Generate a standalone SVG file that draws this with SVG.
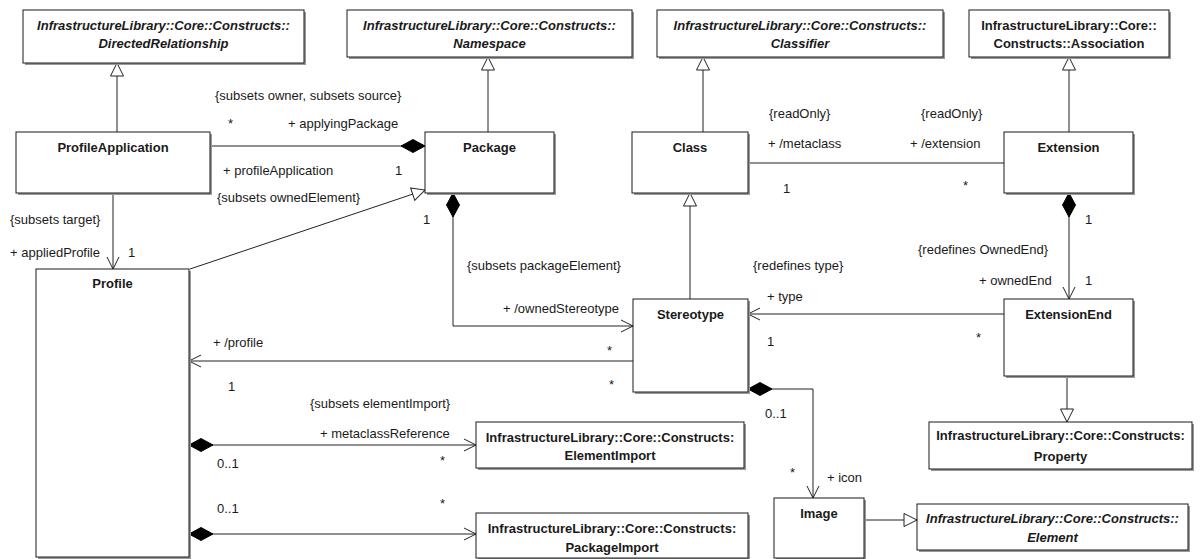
<svg xmlns="http://www.w3.org/2000/svg" width="1202" height="559" viewBox="0 0 1202 559">
<style>
text{font-family:"Liberation Sans",Arial,sans-serif;fill:#1a1a1a}
.lbl{font-size:13px}
.t{font-size:13px;font-weight:bold;text-anchor:middle}
.q{font-size:13px;font-weight:bold;text-anchor:middle}
.qi{font-size:13px;font-weight:bold;font-style:italic;text-anchor:middle}
.box{fill:#fff;stroke:#1a1a1a;stroke-width:1}
.sh{fill:#999}
.c{fill:none;stroke:#222;stroke-width:1}
.gen{marker-end:url(#tri)}
.nav{marker-end:url(#arr)}
.comp{marker-start:url(#dia)}
</style>
<defs>
<marker id="tri" markerUnits="userSpaceOnUse" markerWidth="14" markerHeight="14" refX="13" refY="6.5" orient="auto" overflow="visible">
<path d="M0,0 L13,6.5 L0,13 Z" fill="#fff" stroke="#222" stroke-width="1"/>
</marker>
<marker id="arr" markerUnits="userSpaceOnUse" markerWidth="13" markerHeight="13" refX="12" refY="6" orient="auto" overflow="visible">
<path d="M0,0 L12,6 L0,12" fill="none" stroke="#222" stroke-width="1"/>
</marker>
<marker id="dia" markerUnits="userSpaceOnUse" markerWidth="26" markerHeight="14" refX="0" refY="0" orient="auto" overflow="visible">
<path d="M0,0 L12,-6.5 L24,0 L12,6.5 Z" fill="#000" stroke="#000" stroke-width="1"/>
</marker>
</defs>

<g id="connectors">
<path class="c gen" d="M117,132 V63"/>
<path class="c gen" d="M488,132 V57"/>
<path class="c gen" d="M703,132 V57"/>
<path class="c gen" d="M1069,132 V57"/>
<path class="c comp" d="M425,146 H210"/>
<path class="c nav" d="M113,193 V269"/>
<path class="c gen" d="M190,269 L425,190"/>
<path class="c comp nav" d="M453,193 V326 H633"/>
<path class="c gen" d="M690,299 V193"/>
<path class="c" d="M748,163 H1004"/>
<path class="c comp nav" d="M1069,193 V299"/>
<path class="c nav" d="M1004,314 H748"/>
<path class="c nav" d="M633,361 H189"/>
<path class="c gen" d="M1067,376 V422"/>
<path class="c comp nav" d="M189,445 H476"/>
<path class="c comp nav" d="M189,534 H476"/>
<path class="c comp nav" d="M748,389 H813 V498"/>
<path class="c gen" d="M864,520 H917"/>

<text class="lbl" x="215" y="99.5">{subsets owner, subsets source}</text>
<text class="lbl" x="228" y="128">*</text>
<text class="lbl" x="288" y="127.5">+ applyingPackage</text>
<text class="lbl" x="223" y="174.5">+ profileApplication</text>
<text class="lbl" x="395" y="174.5">1</text>
<text class="lbl" x="128" y="172">*</text>
<text class="lbl" x="217" y="201.5">{subsets ownedElement}</text>
<text class="lbl" x="10" y="223.5">{subsets target}</text>
<text class="lbl" x="10" y="256.5">+ appliedProfile</text>
<text class="lbl" x="128" y="256.5">1</text>
<text class="lbl" x="423" y="223.5">1</text>
<text class="lbl" x="467" y="269.5">{subsets packageElement}</text>
<text class="lbl" x="503" y="312.5">+ /ownedStereotype</text>
<text class="lbl" x="213" y="346.5">+ /profile</text>
<text class="lbl" x="607" y="355">*</text>
<text class="lbl" x="609" y="389">*</text>
<text class="lbl" x="228" y="390.5">1</text>
<text class="lbl" x="310" y="407.5">{subsets elementImport}</text>
<text class="lbl" x="320" y="437.5">+ metaclassReference</text>
<text class="lbl" x="217" y="467.5">0..1</text>
<text class="lbl" x="440" y="465">*</text>
<text class="lbl" x="217" y="512.5">0..1</text>
<text class="lbl" x="440" y="508">*</text>
<text class="lbl" x="769" y="117.5">{readOnly}</text>
<text class="lbl" x="768" y="147.5">+ /metaclass</text>
<text class="lbl" x="783" y="192.5">1</text>
<text class="lbl" x="921" y="117.5">{readOnly}</text>
<text class="lbl" x="910" y="147.5">+ /extension</text>
<text class="lbl" x="963" y="190">*</text>
<text class="lbl" x="753" y="269.5">{redefines type}</text>
<text class="lbl" x="767" y="300.5">+ type</text>
<text class="lbl" x="767" y="345.5">1</text>
<text class="lbl" x="1085" y="223.5">1</text>
<text class="lbl" x="918" y="253.5">{redefines OwnedEnd}</text>
<text class="lbl" x="979" y="284.5">+ ownedEnd</text>
<text class="lbl" x="1085" y="284.5">1</text>
<text class="lbl" x="976" y="342">*</text>
<text class="lbl" x="765" y="417.5">0..1</text>
<text class="lbl" x="790" y="477">*</text>
<text class="lbl" x="827" y="481.5">+ icon</text>
</g>

<g id="DirectedRelationship">
<rect class="sh" x="25" y="12" width="281" height="53"/>
<rect class="box" x="23" y="10" width="281" height="53"/>
<text class="qi" x="163.5" y="29.5">InfrastructureLibrary::Core::Constructs::</text>
<text class="qi" x="163.5" y="47.5">DirectedRelationship</text>
</g>
<g id="Namespace">
<rect class="sh" x="349" y="12" width="285" height="47"/>
<rect class="box" x="347" y="10" width="285" height="47"/>
<text class="qi" x="489.5" y="29.5">InfrastructureLibrary::Core::Constructs::</text>
<text class="qi" x="489.5" y="47.5">Namespace</text>
</g>
<g id="Classifier">
<rect class="sh" x="659" y="12" width="286" height="47"/>
<rect class="box" x="657" y="10" width="286" height="47"/>
<text class="qi" x="800" y="29.5">InfrastructureLibrary::Core::Constructs::</text>
<text class="qi" x="800" y="47.5">Classifier</text>
</g>
<g id="Association">
<rect class="sh" x="971" y="12" width="200" height="47"/>
<rect class="box" x="969" y="10" width="200" height="47"/>
<text class="q" x="1069" y="29.5">InfrastructureLibrary::Core::</text>
<text class="q" x="1069" y="47.5">Constructs::Association</text>
</g>
<g id="ProfileApplication">
<rect class="sh" x="18" y="134" width="194" height="61"/>
<rect class="box" x="16" y="132" width="194" height="61"/>
<text class="t" x="113" y="151.5">ProfileApplication</text>
</g>
<g id="Package">
<rect class="sh" x="427" y="134" width="129" height="61"/>
<rect class="box" x="425" y="132" width="129" height="61"/>
<text class="t" x="489.5" y="151.5">Package</text>
</g>
<g id="Class">
<rect class="sh" x="634" y="134" width="116" height="61"/>
<rect class="box" x="632" y="132" width="116" height="61"/>
<text class="t" x="690" y="151.5">Class</text>
</g>
<g id="Extension">
<rect class="sh" x="1006" y="134" width="129" height="61"/>
<rect class="box" x="1004" y="132" width="129" height="61"/>
<text class="t" x="1068.5" y="151.5">Extension</text>
</g>
<g id="Profile">
<rect class="sh" x="38" y="271" width="153" height="289"/>
<rect class="box" x="36" y="269" width="153" height="288"/>
<text class="t" x="112.5" y="287.5">Profile</text>
</g>
<g id="Stereotype">
<rect class="sh" x="635" y="301" width="115" height="93"/>
<rect class="box" x="633" y="299" width="115" height="93"/>
<text class="t" x="690.5" y="318.5">Stereotype</text>
</g>
<g id="ExtensionEnd">
<rect class="sh" x="1006" y="301" width="129" height="77"/>
<rect class="box" x="1004" y="299" width="129" height="77"/>
<text class="t" x="1068.5" y="318.5">ExtensionEnd</text>
</g>
<g id="Property">
<rect class="sh" x="931" y="424" width="263" height="47"/>
<rect class="box" x="929" y="422" width="263" height="47"/>
<text class="q" x="1060.5" y="439.5">InfrastructureLibrary::Core::Constructs:</text>
<text class="q" x="1060.5" y="460.5">Property</text>
</g>
<g id="ElementImport">
<rect class="sh" x="478" y="424" width="268" height="46"/>
<rect class="box" x="476" y="422" width="268" height="46"/>
<text class="q" x="610" y="441.5">InfrastructureLibrary::Core::Constructs:</text>
<text class="q" x="610" y="459.5">ElementImport</text>
</g>
<g id="PackageImport">
<rect class="sh" x="478" y="515" width="272" height="46"/>
<rect class="box" x="476" y="513" width="272" height="45"/>
<text class="q" x="612" y="532.5">InfrastructureLibrary::Core::Constructs:</text>
<text class="q" x="612" y="551.5">PackageImport</text>
</g>
<g id="Image">
<rect class="sh" x="776" y="500" width="90" height="61"/>
<rect class="box" x="774" y="498" width="90" height="60"/>
<text class="t" x="819" y="517.5">Image</text>
</g>
<g id="Element">
<rect class="sh" x="919" y="506" width="271" height="46"/>
<rect class="box" x="917" y="504" width="271" height="46"/>
<text class="qi" x="1052.5" y="522.5">InfrastructureLibrary::Core::Constructs::</text>
<text class="qi" x="1052.5" y="541.5">Element</text>
</g>
</svg>
